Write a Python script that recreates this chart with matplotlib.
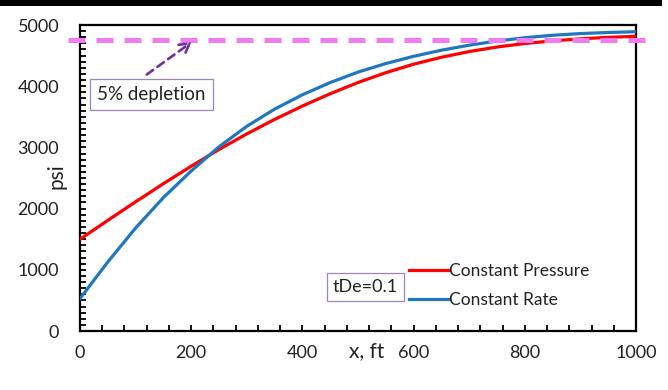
import matplotlib
matplotlib.use("Agg")
import matplotlib.pyplot as plt
from matplotlib.patches import Rectangle
from matplotlib.ticker import MultipleLocator

plt.rcParams['font.family'] = ['Lato', 'DejaVu Sans']

# Distance from the well, ft
x_ft = [0, 50, 100, 150, 200, 250, 300, 350, 400, 450, 500,
        550, 600, 650, 700, 750, 800, 850, 900, 950, 1000]

# Pressure profiles at tDe = 0.1, psi
p_const_pressure = [1500, 1808, 2111, 2407, 2693, 2966, 3221, 3457, 3676, 3877, 4060,
                    4221, 4359, 4473, 4566, 4640, 4698, 4741, 4774, 4798, 4815]
p_const_rate = [530, 1128, 1683, 2180, 2615, 3010, 3345, 3625, 3860, 4060, 4230,
                4370, 4488, 4588, 4670, 4738, 4792, 4832, 4860, 4878, 4890]

# 5% depletion threshold (of 5000 psi initial pressure)
depletion_level = 4750
depletion_span = [-21, 1032]

series_labels = ["Constant Pressure", "Constant Rate"]
x_ticks = [0, 200, 400, 600, 800, 1000]
y_ticks = [0, 1000, 2000, 3000, 4000, 5000]

W, H = 668, 390
fig = plt.figure(figsize=(W / 100, H / 100), dpi=100)
ax = fig.add_axes([80 / W, 1 - 331 / H, (636 - 80) / W, (331 - 25) / H])

# black bar along the top edge of the image
fig.patches.append(Rectangle((0, 1 - 6 / H), 662 / W, 6 / H, transform=fig.transFigure,
                             facecolor='black', edgecolor='none', zorder=10))

ax.plot(x_ft, p_const_pressure, color='#FF0000', lw=2.3, label=series_labels[0],
        zorder=3, solid_joinstyle='round')
ax.plot(x_ft, p_const_rate, color='#1F77C0', lw=2.3, label=series_labels[1],
        zorder=3, solid_joinstyle='round')

ax.plot(depletion_span, [depletion_level, depletion_level], color='#F07CF0', lw=3.6,
        dashes=(3.4, 2.2), dash_capstyle='butt', clip_on=False, zorder=4)

ax.annotate("", xy=(201, 4722), xytext=(120, 4190),
            arrowprops=dict(arrowstyle='->,head_length=0.7,head_width=0.4',
                            color='#7030A0', lw=1.9, linestyle=(0, (3, 2)),
                            shrinkA=0, shrinkB=0), zorder=5)

ax.text(129, 3860, "5% depletion", ha='center', va='center', fontsize=13.5, color='#222222',
        bbox=dict(boxstyle='square,pad=0.38', facecolor='white', edgecolor='#9A86BA', lw=0.9),
        zorder=5)

ax.text(513, 719, "tDe=0.1", ha='center', va='center', fontsize=13, color='#222222',
        bbox=dict(boxstyle='square,pad=0.32', facecolor='white', edgecolor='#9A86BA', lw=0.9),
        zorder=5)

leg = ax.legend(loc='upper left', bbox_to_anchor=((409 - 80) / 556, (331 - 263) / 306),
                frameon=False, fontsize=12.5, handlelength=2.25, handletextpad=0.05,
                labelspacing=0.75, borderpad=0, borderaxespad=0)
for t in leg.get_texts():
    t.set_color('#222222')

ax.set_xlim(0, 1000)
ax.set_ylim(0, 5000)
ax.set_xticks(x_ticks)
ax.set_yticks(y_ticks)
ax.xaxis.set_minor_locator(MultipleLocator(40))
ax.yaxis.set_minor_locator(MultipleLocator(100))
ax.tick_params(which='both', direction='in', color='black', width=1.3, length=4.5)
ax.tick_params(axis='y', which='major', pad=15, labelsize=13, labelcolor='#222222')
ax.tick_params(axis='x', which='major', pad=10, labelsize=13, labelcolor='#222222')
for s in ax.spines.values():
    s.set_linewidth(1.6)
    s.set_color('black')

fig.text(57 / W, 1 - 176 / H, "psi", rotation=90, ha='center', va='center',
         fontsize=15, color='#222222')
fig.text(367 / W, 1 - 351 / H, "x, ft", ha='center', va='center',
         fontsize=15, color='#222222')

fig.savefig("out.png", dpi=100, facecolor='white')
